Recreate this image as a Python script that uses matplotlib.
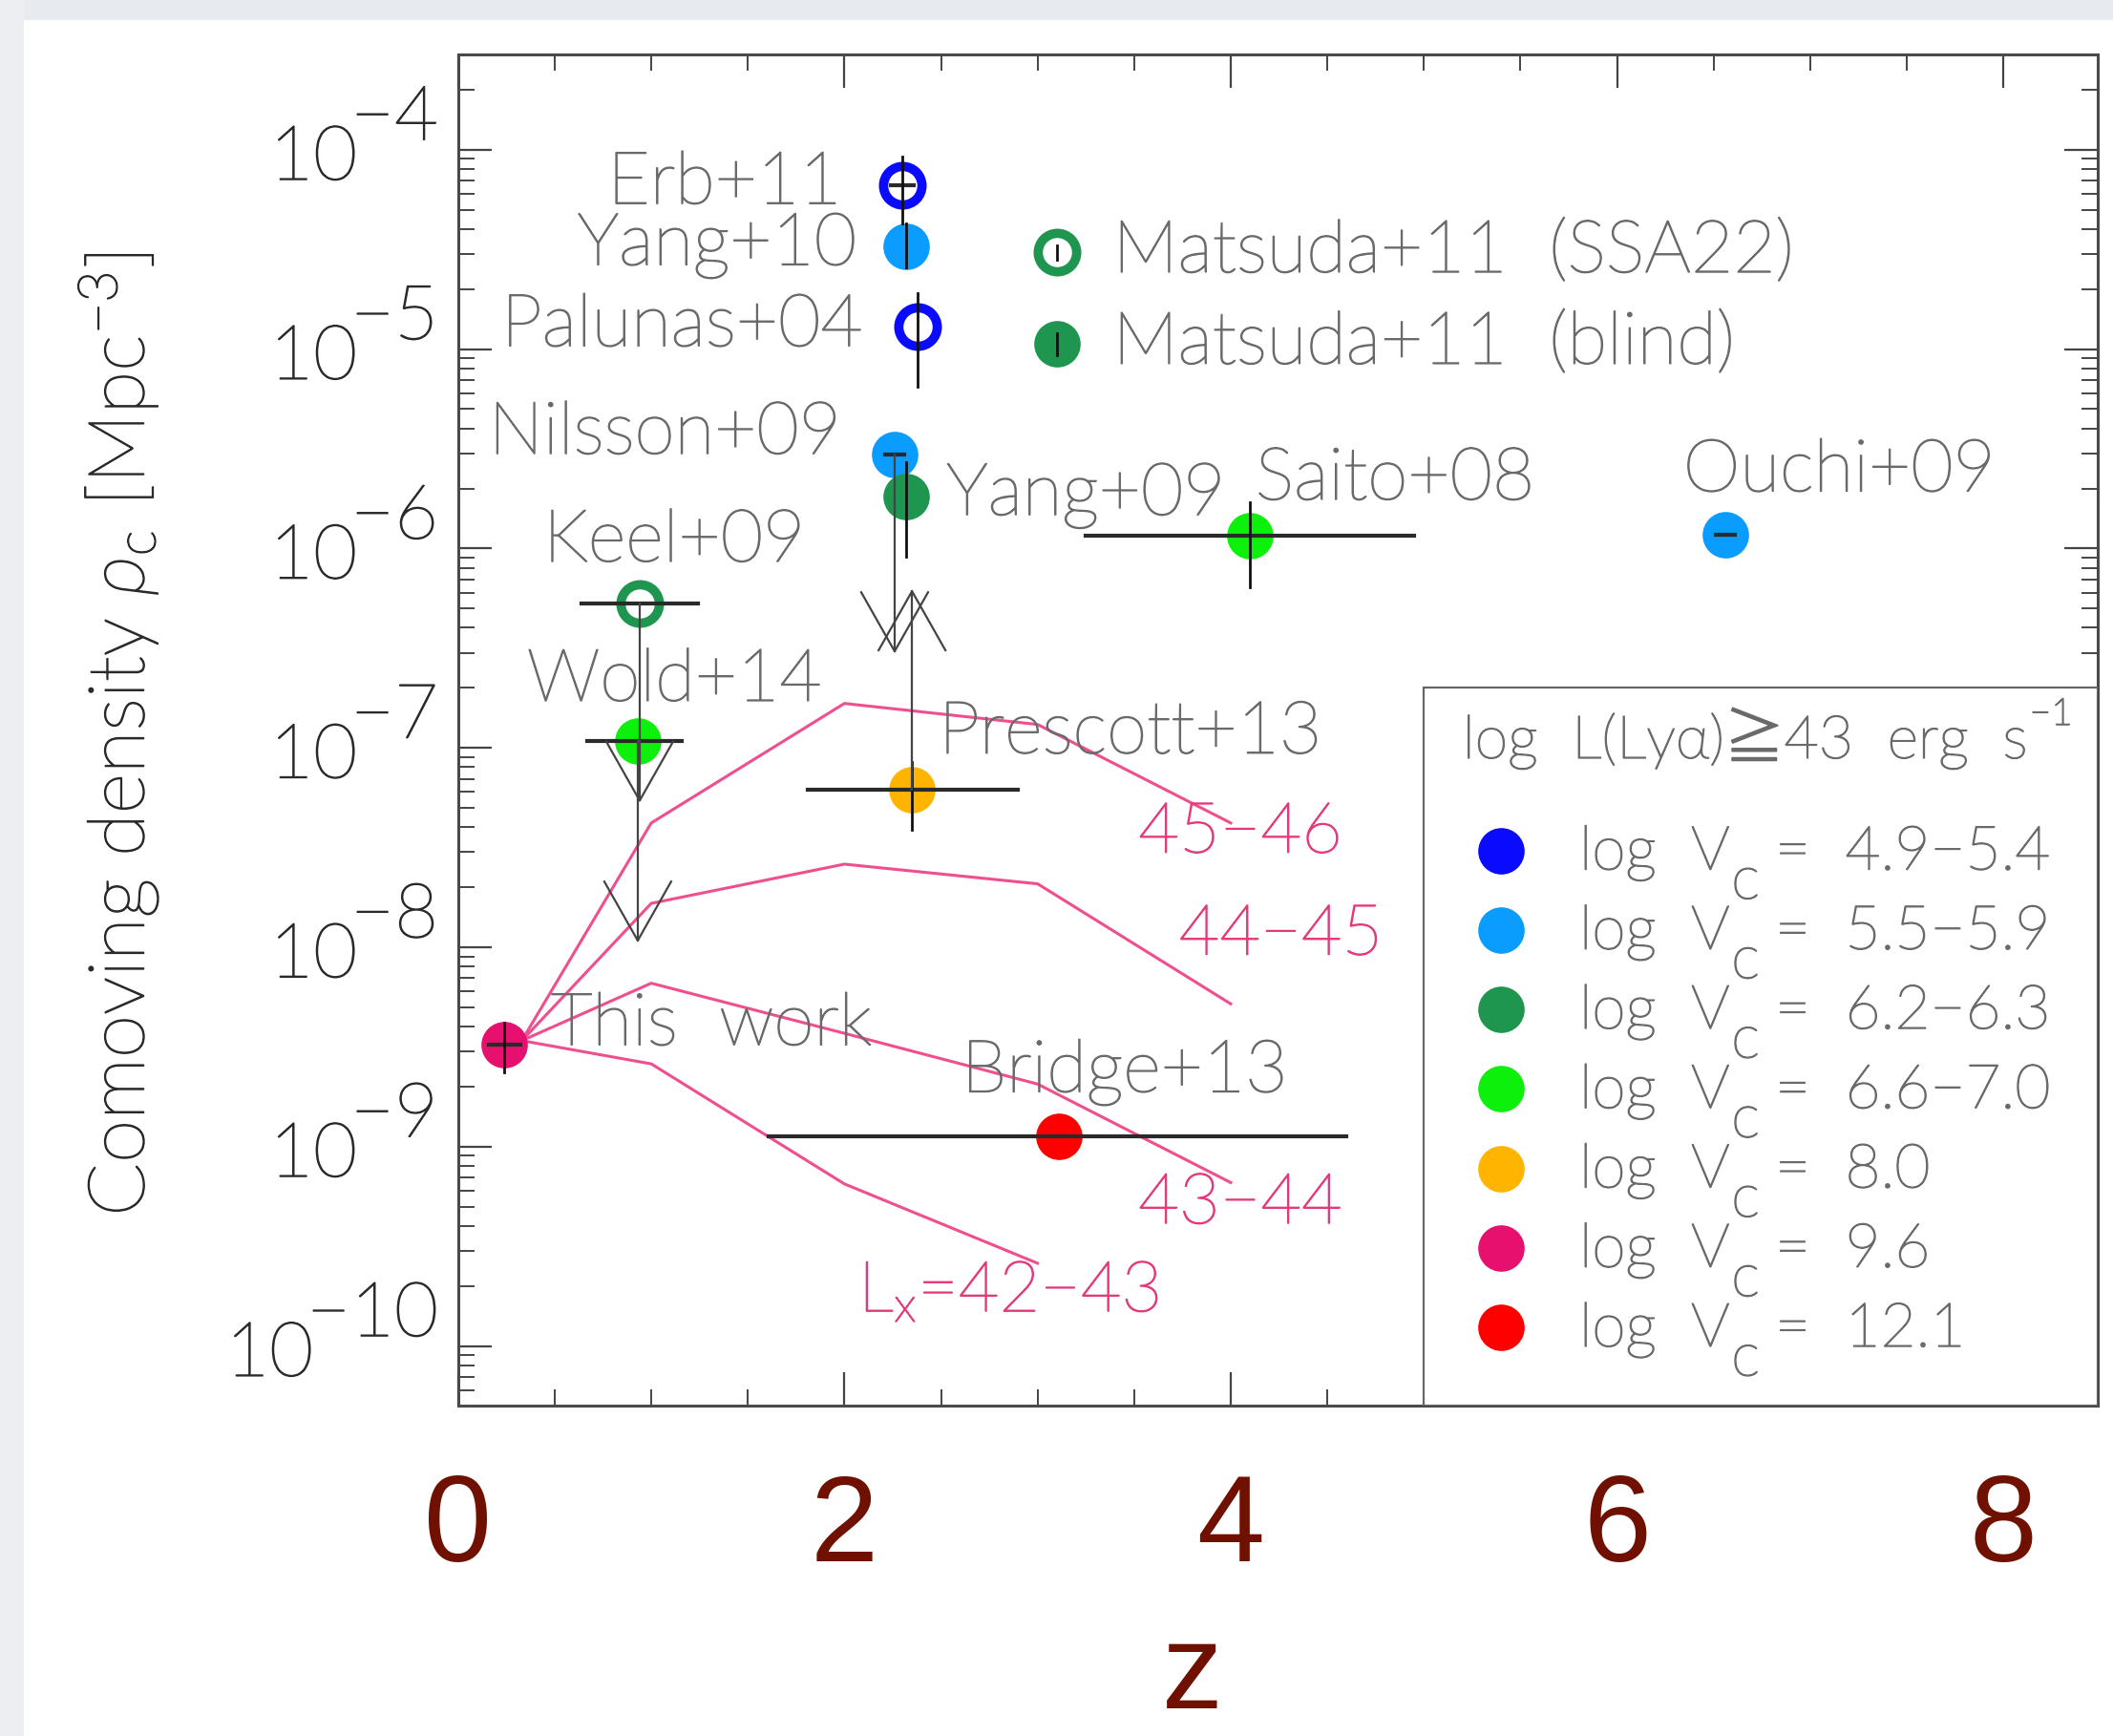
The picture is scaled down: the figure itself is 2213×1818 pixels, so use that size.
import numpy as np
import matplotlib.pyplot as plt
import matplotlib.patheffects as pe
from matplotlib.patches import Rectangle
from matplotlib.ticker import FixedLocator, MultipleLocator, LogLocator, NullFormatter

plt.rcParams['font.family'] = ['Lato', 'DejaVu Sans']
plt.rcParams['font.weight'] = 'light'
plt.rcParams['mathtext.fontset'] = 'custom'
plt.rcParams['mathtext.rm'] = 'Lato:light'
plt.rcParams['mathtext.it'] = 'Lato:italic:light'
plt.rcParams['axes.unicode_minus'] = True

# --- data ---
vc_classes = ["4.9−5.4", "5.5−5.9", "6.2−6.3", "6.6−7.0", "8.0", "9.6", "12.1"]

src_names = ["Erb+11", "Yang+10", "Palunas+04", "Matsuda+11  (SSA22)", "Matsuda+11  (blind)",
             "Nilsson+09", "Yang+09", "Saito+08", "Ouchi+09", "Keel+09", "Wold+14",
             "Prescott+13", "This  work", "Bridge+13"]
src_z = [2.30, 2.32, 2.38, 3.10, 3.10, 2.26, 2.32, 4.10, 6.56, 0.94, 0.93, 2.35, 0.24, 3.11]
src_rho = [6.65e-5, 3.26e-5, 1.29e-5, 3.05e-5, 1.06e-5, 2.95e-6, 1.83e-6, 1.16e-6, 1.17e-6,
           5.3e-7, 1.08e-7, 6.2e-8, 3.24e-9, 1.12e-9]
src_vc = [0, 1, 0, 2, 2, 1, 2, 3, 1, 2, 3, 4, 5, 6]
src_filled = [False, True, False, False, True, True, True, True, True, False, True, True, True, True]
# redshift ranges (None = no bar)
src_zlo = [2.24, None, None, None, None, 2.21, None, 3.25, 6.51, 0.64, 0.67, 1.81, 0.16, 1.61]
src_zhi = [2.36, None, None, None, None, 2.31, None, 4.95, 6.61, 1.24, 1.16, 2.90, 0.32, 4.60]
# density ranges
src_rlo = [4.29e-5, 2.57e-5, 6.5e-6, 2.8e-5, 0.93e-5, None, 9.1e-7, 6.4e-7, None, None, None, 3.9e-8, 2.37e-9, None]
src_rhi = [9.25e-5, 4.29e-5, 1.91e-5, 3.3e-5, 1.2e-5, None, 2.7e-6, 1.71e-6, None, None, None, 8.5e-8, 4.18e-9, None]
# limits: arrow end points
limit_names = ["Nilsson+09", "Keel+09", "Wold+14", "Prescott+13"]
limit_end = [3.05e-7, 5.44e-8, 1.08e-8, 6.1e-7]

# label anchors (z, rho) for the source names
label_z = [1.38, 1.34, 1.16, 3.39, 3.39, 1.07, 3.25, 4.85, 7.15, 1.12, 1.12, 3.48, 1.31, 3.45]
label_rho = [6.73e-5, 3.30e-5, 1.30e-5, 3.05e-5, 1.06e-5, 3.75e-6, 1.84e-6, 2.21e-6, 2.43e-6,
             1.08e-6, 2.16e-7, 1.18e-7, 4.06e-9, 2.36e-9]
label_ha = ['center'] * 3 + ['left'] * 2 + ['center'] * 9

# X-ray AGN density tracks
agn_z = [0.33, 1.0, 2.0, 3.0, 4.0]
agn_names = ["45−46", "44−45", "43−44", "L$_{\\rm x}$=42−43"]
agn_rho = [
    [3.4e-9, 4.2e-8, 1.67e-7, 1.31e-7, 4.2e-8],
    [3.4e-9, 1.66e-8, 2.61e-8, 2.08e-8, 5.2e-9],
    [3.4e-9, 6.6e-9, 3.7e-9, 2.06e-9, 6.6e-10],
    [3.4e-9, 2.6e-9, 6.5e-10, 2.6e-10],
]
agn_label_z = [4.05, 4.26, 4.05, 2.85]
agn_label_rho = [3.74e-8, 1.15e-8, 5.16e-10, 1.88e-10]

# --- style ---
vc_colors = ['#0a0aff', '#0a9cff', '#1e9650', '#0cf00c', '#ffb400', '#e8106e', '#ff0000']
pink = '#ef4f8e'
pink_txt = '#e4397a'
gray_txt = '#6a6a6a'
dark_txt = '#2a2a2a'
red_txt = '#701000'
z_font = ['Liberation Sans', 'DejaVu Sans']
sym_font = ['Lato', 'Noto Sans CJK JP', 'DejaVu Sans']


def thick(col):
    return [pe.withStroke(linewidth=1.1, foreground=col)]


fig = plt.figure(figsize=(22.13, 18.18), dpi=100)
fig.patch.set_facecolor('white')
fig.patches.append(Rectangle((0, 1 - 15 / 1288), 1, 15 / 1288, transform=fig.transFigure,
                             fc='#e7eaee', ec='none', zorder=0))
fig.patches.append(Rectangle((0, 0), 18 / 1568, 1, transform=fig.transFigure,
                             fc='#eceef2', ec='none', zorder=0))

ax = fig.add_axes([0.2168, 0.1902, 0.7761, 0.7787])
ax.set_yscale('log')
ax.set_xlim(0, 8.49)
ax.set_ylim(10 ** -10.3, 10 ** -3.52)

for s in ax.spines.values():
    s.set_color('#4a4a4a')
    s.set_linewidth(2.2)

ax.xaxis.set_major_locator(FixedLocator([0, 2, 4, 6, 8]))
ax.xaxis.set_minor_locator(MultipleLocator(0.5))
ax.yaxis.set_major_locator(LogLocator(base=10, numticks=20))
ax.yaxis.set_minor_locator(LogLocator(base=10, subs=np.arange(2, 10), numticks=20))
ax.yaxis.set_minor_formatter(NullFormatter())
ax.tick_params(axis='both', which='both', direction='in', top=True, right=True, color='#444444')
ax.tick_params(which='major', length=25, width=1.6)
ax.tick_params(which='minor', length=12, width=1.4)
ax.tick_params(axis='y', which='both', labelleft=False)
ax.tick_params(axis='x', which='major', labelsize=92, labelcolor=red_txt, pad=50)
ax.set_xticklabels(['0', '2', '4', '6', '8'])
for tl in ax.get_xticklabels():
    tl.set_fontfamily(z_font)
    tl.set_fontweight('normal')

fig.text(0.5644, 0.016, 'z', ha='center', va='baseline', fontsize=92, color=red_txt,
         family=z_font, fontweight='normal')

# y tick labels: "10" with a full-size exponent
for e in range(-10, -3):
    ex = ax.annotate("−%d" % -e, xy=(0, 10.0 ** e), xycoords=('axes fraction', 'data'),
                     xytext=(-15, 7.6), textcoords='offset points', ha='right', va='baseline',
                     fontsize=57, color=dark_txt, annotation_clip=False,
                     path_effects=thick(dark_txt))
    ax.annotate("10", xy=(0, 0), xycoords=ex, xytext=(5, -20), textcoords='offset points',
                ha='right', va='baseline', fontsize=57, color=dark_txt, annotation_clip=False,
                path_effects=thick(dark_txt))

fig.text(0.056, 0.577, "Comoving density $\\rho_{\\rm c}$ [Mpc$^{-3}$]", rotation=90,
         ha='center', va='center', fontsize=59, color=dark_txt, path_effects=thick(dark_txt))

# AGN tracks
for k in range(len(agn_rho)):
    ax.plot(agn_z[:len(agn_rho[k])], agn_rho[k], color=pink, lw=2.2, zorder=2)
    ax.text(agn_label_z[k], agn_label_rho[k], agn_names[k], ha='center', va='center',
            fontsize=53, color=pink_txt, zorder=6, path_effects=thick(pink_txt))

# sources
for i, name in enumerate(src_names):
    col = vc_colors[src_vc[i]]
    if src_filled[i]:
        ax.plot(src_z[i], src_rho[i], 'o', ms=35, mfc=col, mec='none', zorder=3)
    else:
        ax.plot(src_z[i], src_rho[i], 'o', ms=29, mfc='none', mec=col, mew=7, zorder=3)
    if src_zlo[i] is not None:
        ax.plot([src_zlo[i], src_zhi[i]], [src_rho[i], src_rho[i]], color='#2a2a2a', lw=3, zorder=4)
    if src_rlo[i] is not None:
        ax.plot([src_z[i], src_z[i]], [src_rlo[i], src_rhi[i]], color='#111111', lw=2, zorder=4)
    ax.text(label_z[i], label_rho[i], name, ha=label_ha[i], va='center', fontsize=55,
            color=gray_txt, zorder=6, path_effects=thick(gray_txt))

# upper / lower limit arrows
hw = 0.173
hh = 10 ** 0.296
for name, end in zip(limit_names, limit_end):
    i = src_names.index(name)
    z0, r0 = src_z[i], src_rho[i]
    f = hh if end < r0 else 1 / hh
    ax.plot([z0, z0], [r0, end], color='#444444', lw=1.6, zorder=4)
    ax.plot([z0 - hw, z0, z0 + hw], [end * f, end, end * f], color='#444444', lw=1.6, zorder=4)

# legend box
ax.add_patch(Rectangle((0.589, 0.0), 0.411, 0.5314, transform=ax.transAxes,
                       fc='white', ec='#666666', lw=1.6, zorder=5))
tt = ax.text(0.6125, 0.4935, "log  L(Lyα)≧43  erg  s", transform=ax.transAxes, ha='left',
             va='center', fontsize=45, color=gray_txt, family=sym_font, zorder=6,
             path_effects=thick(gray_txt))
ax.annotate("−1", xy=(1, 0.62), xycoords=tt, xytext=(1, 0), textcoords='offset points',
            ha='left', va='bottom', fontsize=28, color=gray_txt, zorder=6,
            path_effects=thick(gray_txt))
for k, lab in enumerate(vc_classes):
    yk = 0.4108 - k * 0.0588
    ax.plot(0.636, yk, 'o', ms=35, mfc=vc_colors[k], mec='none', transform=ax.transAxes,
            zorder=6, clip_on=False)
    t1 = ax.text(0.6837, yk - 0.014, "log  V", transform=ax.transAxes,
                 ha='left', va='baseline', fontsize=46, color=gray_txt, zorder=6,
                 path_effects=thick(gray_txt))
    ax.annotate("c", xy=(1, 0), xycoords=t1, xytext=(1, -22), textcoords='offset points',
                ha='left', va='bottom', fontsize=46, color=gray_txt, zorder=6,
                path_effects=thick(gray_txt))
    ax.annotate("=  " + lab, xy=(1, 0), xycoords=t1, xytext=(34, 0), textcoords='offset points',
                ha='left', va='bottom', fontsize=46, color=gray_txt, zorder=6,
                path_effects=thick(gray_txt))

fig.savefig("out.png", dpi=100)
